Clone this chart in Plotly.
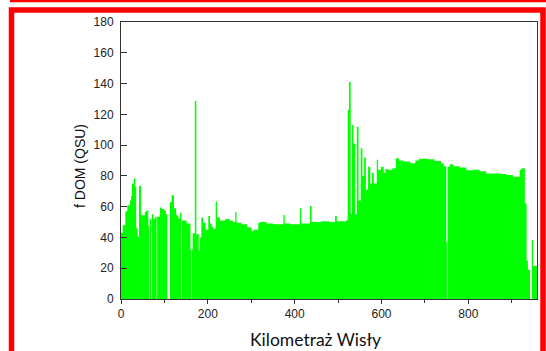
import plotly.graph_objects as go

# Segment start positions along the river (km) and fDOM values (QSU); 0 marks a gap
km = [0, 3.8, 10, 14.6, 20.7, 23, 25.3, 29.9, 33, 35, 38.4, 41.4, 46, 55, 58, 62.9, 64.5, 66,
      70, 71.3, 75, 78, 82, 83.2, 89.7, 94, 100, 103.5, 106.6, 112.7, 116.6, 122, 127, 132,
      136, 139, 140.5, 151, 160, 162.2, 163.4, 165, 170, 173.5, 179, 181, 185, 189, 195, 201,
      205, 209, 212, 218, 221, 228, 240, 250, 258, 263, 266, 278, 290, 300, 305, 316, 320,
      335, 350, 374, 377, 390, 412, 415, 435, 439, 460, 480, 493, 497, 519, 522, 525, 529,
      532, 535, 539, 543, 547, 552, 556, 560, 564, 569, 574, 578, 582, 589, 592, 599, 605,
      609, 614, 625, 633, 640, 650, 666, 678, 686, 706, 722, 737, 743, 749, 750.5, 752, 757,
      765, 780, 795, 811, 826, 841, 872, 888, 903, 918, 922, 930, 934, 937, 942, 946, 949]
fdom = [43, 48, 57, 61, 64, 67, 75, 78.5, 73, 46, 40.5, 73.5, 54.5, 56.5, 57.5, 47.6, 0, 52,
        0, 55, 52, 53.5, 0, 53.5, 59.5, 58.5, 57.5, 55, 0, 63, 67.5, 59, 54.5, 52.5,
        56, 0, 51, 49, 32, 0, 32, 42.7, 128.6, 42, 31, 40, 53, 49.5, 45, 54,
        49, 47, 45.6, 63.4, 53, 51, 52, 51, 50, 56.6, 49.5, 48.5, 46.6, 44, 45, 49.5, 50,
        49, 48.5, 54.6, 49, 48.5, 59, 49, 60.4, 50, 50.5, 50, 54, 50.5, 51.4, 123, 141, 55,
        113, 101, 55, 112, 64, 98, 80, 92, 71, 86, 75, 82, 75, 90.5, 84, 86, 82,
        84.5, 84, 85, 91.5, 90, 89.3, 88.2, 90, 91.2, 90.8, 89.6, 88, 86.3, 37.2, 0, 86, 87.5,
        86.3, 85.4, 83.7, 84, 83, 81.6, 81.2, 80.6, 79.5, 84, 85, 62, 25, 19, 0, 38.3, 21.4]
km_end = 958

x_tick_vals = [0, 200, 400, 600, 800]
y_tick_vals = [0, 20, 40, 60, 80, 100, 120, 140, 160, 180]

xs = km + [km_end]
ys = fdom + [fdom[-1]]

fig = go.Figure()
fig.add_trace(go.Scatter(
    x=xs, y=ys, mode="lines", line=dict(shape="hv", width=0, color="#00FF00"),
    fill="tozeroy", fillcolor="#00FF00", hoverinfo="skip", showlegend=False))

L, R, T, B = 121, 537, 22, 299
W, H = 546, 351
pw, ph = R - L, B - T

def px(xp):
    return (xp - L) / pw

def py(yp):
    return (B - yp) / ph

axis_font = dict(family="Arial, Liberation Sans, sans-serif", size=12, color="#222")

fig.update_layout(
    width=W, height=H,
    margin=dict(l=L, r=W - R, t=T, b=H - B),
    paper_bgcolor="white", plot_bgcolor="white",
    xaxis=dict(range=[0, km_end], tickvals=x_tick_vals, ticks="outside", ticklen=4,
               tickcolor="#333", showline=True, linecolor="#333", linewidth=1, mirror=True,
               showgrid=False, zeroline=False, tickfont=axis_font,
               minor=dict(dtick=100, tick0=0, ticks="outside", ticklen=3, tickcolor="#333")),
    yaxis=dict(range=[0, 180], tickvals=y_tick_vals, ticks="inside", ticklen=6,
               tickcolor="#333", showline=True, linecolor="#333", linewidth=1, mirror=True,
               showgrid=False, zeroline=False, tickfont=axis_font, ticklabelstandoff=4),
    shapes=[
        dict(type="rect", xref="paper", yref="paper", x0=px(11.5), x1=px(543),
             y0=py(370), y1=py(10), line=dict(color="#FF0000", width=5.5), layer="above"),
        dict(type="line", xref="paper", yref="paper", x0=px(10), x1=px(560),
             y0=py(1), y1=py(1), line=dict(color="#FF0000", width=2.5), layer="above"),
    ],
    annotations=[
        dict(text="Kilometraż Wisły", xref="paper", yref="paper", x=px(315), y=py(339),
             showarrow=False, font=dict(family="Lato, Open Sans, sans-serif", size=17.5, color="#111"),
             xanchor="center", yanchor="middle"),
        dict(text="f DOM (QSU)", xref="paper", yref="paper", x=px(80), y=py(166),
             showarrow=False, textangle=-90,
             font=dict(family="Arial, Liberation Sans, sans-serif", size=14, color="#111"),
             xanchor="center", yanchor="middle"),
    ],
)

fig.write_html("out.html")
